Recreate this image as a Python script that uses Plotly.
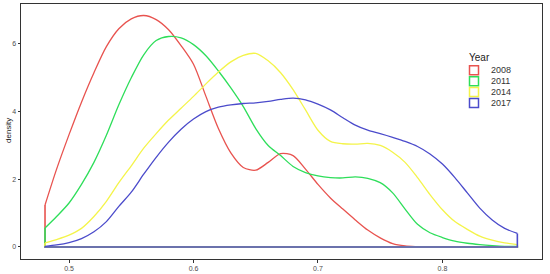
import plotly.graph_objects as go

x_start = 0.4807
x_end = 0.8602
x_mid = [round(0.49 + 0.01 * i, 2) for i in range(37)]  # 0.49 .. 0.85

years = ["2008", "2011", "2014", "2017"]
colors = ["#E8534F", "#2EDE5A", "#F4F44A", "#4B4BCB"]

dens_2008 = [1.24, 2.3, 3.32, 4.28, 5.15, 5.92, 6.45, 6.74, 6.84, 6.72, 6.42, 5.95,
             5.4, 4.45, 3.5, 2.78, 2.35, 2.27, 2.5, 2.76, 2.7, 2.3, 1.85, 1.45,
             1.12, 0.8, 0.5, 0.27, 0.1, 0.03, 0.01, 0.0, 0.0, 0.0, 0.0, 0.0,
             0.0, 0.0, 0.0]
dens_2011 = [0.56, 0.9, 1.3, 1.85, 2.5, 3.3, 4.2, 5.0, 5.68, 6.1, 6.22, 6.18,
             5.98, 5.65, 5.2, 4.7, 4.15, 3.5, 3.0, 2.7, 2.38, 2.2, 2.1, 2.05,
             2.04, 2.07, 2.03, 1.9, 1.6, 1.12, 0.67, 0.42, 0.28, 0.17, 0.11, 0.07,
             0.04, 0.02, 0.02]
dens_2014 = [0.12, 0.22, 0.35, 0.55, 0.9, 1.35, 1.9, 2.4, 2.92, 3.35, 3.75, 4.1,
             4.45, 4.82, 5.17, 5.47, 5.66, 5.72, 5.5, 5.15, 4.65, 4.05, 3.45, 3.12,
             3.05, 3.04, 3.06, 3.0, 2.8, 2.5, 2.05, 1.55, 1.1, 0.75, 0.52, 0.32,
             0.2, 0.12, 0.07]
dens_2017 = [0.02, 0.06, 0.13, 0.25, 0.45, 0.75, 1.2, 1.62, 2.15, 2.65, 3.1, 3.48,
             3.78, 4.0, 4.13, 4.2, 4.24, 4.26, 4.3, 4.36, 4.4, 4.35, 4.22, 4.05,
             3.82, 3.6, 3.45, 3.35, 3.24, 3.12, 2.97, 2.75, 2.45, 2.05, 1.6, 1.15,
             0.8, 0.55, 0.4]
all_dens = [dens_2008, dens_2011, dens_2014, dens_2017]

xs = [x_start] + x_mid + [x_end]

W, H = 550, 274
L, R, T, B = 21, 8, 4, 15


def px_x(p):
    return (p - L) / (W - L - R)


def px_y(p):
    return (H - B - p) / (H - T - B)


fig = go.Figure()
for year, col, ys in zip(years, colors, all_dens):
    # ggplot-style outline: vertical ends plus the baseline
    fig.add_trace(go.Scatter(
        x=[xs[0], xs[0], xs[-1], xs[-1]], y=[ys[0], 0, 0, ys[-1]],
        mode="lines", line=dict(color=col, width=1.6), showlegend=False,
        hoverinfo="skip"))
    fig.add_trace(go.Scatter(
        x=xs, y=ys, mode="lines", name=year, showlegend=False,
        line=dict(color=col, width=1.3, shape="spline", smoothing=0.8)))

# legend drawn by hand to get ggplot's tight key spacing
fig.add_annotation(x=px_x(467), y=px_y(57), xref="paper", yref="paper",
                   text="Year", showarrow=False, xanchor="left", yanchor="middle",
                   font=dict(size=10, color="#222"))
for i, (year, col) in enumerate(zip(years, colors)):
    cy = 70.3 + i * 10.9
    fig.add_shape(type="rect", xref="paper", yref="paper",
                  x0=px_x(469.5), x1=px_x(478.5), y0=px_y(cy + 4.5), y1=px_y(cy - 4.5),
                  line=dict(color=col, width=1.5), fillcolor="rgba(0,0,0,0)")
    fig.add_annotation(x=px_x(489), y=px_y(cy), xref="paper", yref="paper",
                       text=year, showarrow=False, xanchor="left", yanchor="middle",
                       font=dict(size=9, color="#333"))

fig.add_annotation(x=px_x(8), y=px_y(131), xref="paper", yref="paper",
                   text="density", textangle=-90, showarrow=False,
                   xanchor="center", yanchor="middle",
                   font=dict(size=8, color="#222"))

axis_common = dict(
    showline=True, mirror=True, linecolor="#333333", linewidth=1,
    showgrid=False, zeroline=False, ticks="outside", ticklen=2.5,
    tickcolor="#333333", tickfont=dict(size=7, color="#4d4d4d"),
    automargin=False,
)
fig.update_xaxes(range=[0.4614, 0.880], tickvals=[0.5, 0.6, 0.7, 0.8],
                 ticktext=["0.5", "0.6", "0.7", "0.8"], **axis_common)
fig.update_yaxes(range=[-0.355, 7.18], tickvals=[0, 2, 4, 6], **axis_common)

fig.update_layout(
    width=W, height=H,
    margin=dict(l=L, r=R, t=T, b=B),
    paper_bgcolor="white", plot_bgcolor="white",
    font=dict(family="Liberation Sans, Arial, sans-serif"),
    showlegend=False,
)

# drop the browser's default 8px body margin so the figure sits at the page corner
fig.write_html("out.html", config={"displayModeBar": False},
               post_script="document.body.style.margin = '0';")
